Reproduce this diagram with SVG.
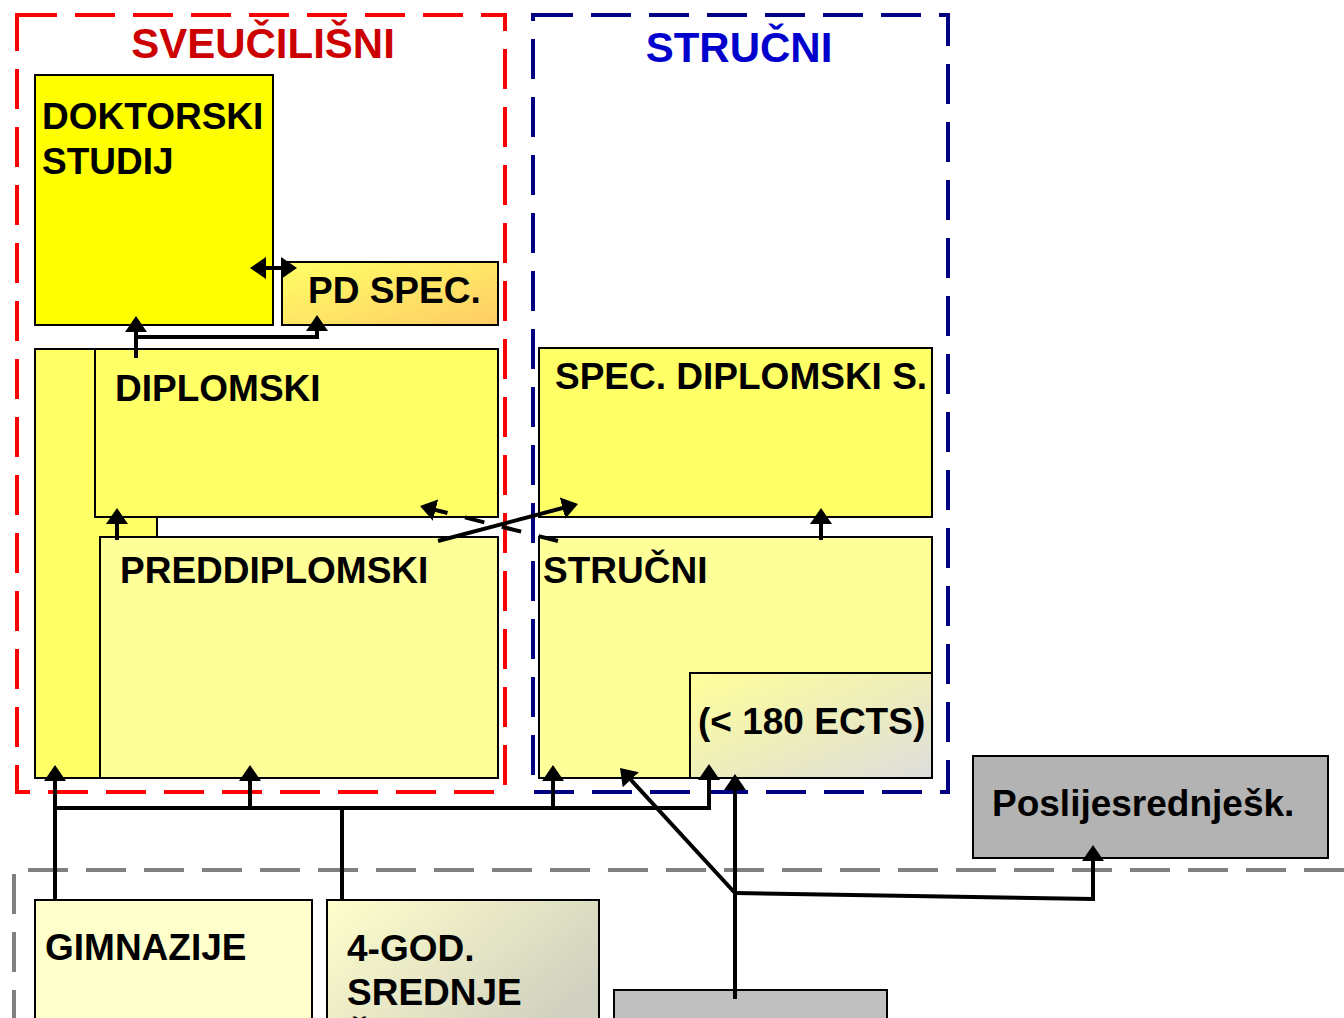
<svg xmlns="http://www.w3.org/2000/svg" width="1344" height="1018" viewBox="0 0 1344 1018">
<defs>
<marker id="ah" viewBox="0 0 16 22" markerWidth="16" markerHeight="22" refX="8" refY="11" orient="auto-start-reverse" markerUnits="userSpaceOnUse"><path d="M0,0 L16,11 L0,22 z" fill="#000"/></marker>
<linearGradient id="gPD" x1="0" y1="0" x2="1" y2="1"><stop offset="0" stop-color="#FFFF66"/><stop offset="1" stop-color="#FFCC66"/></linearGradient>
<linearGradient id="gECTS" x1="0" y1="0" x2="1" y2="1"><stop offset="0" stop-color="#FFFF99"/><stop offset="1" stop-color="#DDDDDD"/></linearGradient>
<linearGradient id="gSS" x1="0" y1="0" x2="1" y2="0.6"><stop offset="0" stop-color="#FFFFCC"/><stop offset="1" stop-color="#D0D0C0"/></linearGradient>
</defs>
<style>
.box{stroke:#000;stroke-width:2}
.t{font-family:"Liberation Sans",Arial,sans-serif;font-weight:bold;font-size:37px;fill:#000}
.title{font-family:"Liberation Sans",Arial,sans-serif;font-weight:bold;font-size:42px}
.cont{fill:none;stroke-width:4;stroke-dasharray:40 18}
.c{fill:none;stroke:#000;stroke-width:4}
</style>
<rect width="1344" height="1018" fill="#fff"/>
<g id="containers">
<rect id="sveucilisni" class="cont" x="17" y="15" width="488" height="777" stroke="#FF0000"/>
<rect id="strucni-group" class="cont" x="533" y="15" width="415" height="777" stroke="#000080"/>
<path id="srednje-group" class="cont" d="M1344,870 L14,870 L14,1030" stroke="#808080" stroke-width="5"/>
<text class="title" x="263" y="58" text-anchor="middle" fill="#CC0000">SVEUČILIŠNI</text>
<text class="title" x="739" y="62" text-anchor="middle" fill="#0000CC">STRUČNI</text>
</g>
<g id="doktorski"><rect class="box" x="35" y="75" width="238" height="250" fill="#FFFF00"/><text class="t" x="42" y="129">DOKTORSKI</text><text class="t" x="42" y="174">STUDIJ</text></g>
<g id="pdspec"><rect class="box" x="282" y="262" width="216" height="63" fill="url(#gPD)"/><text class="t" x="308" y="303">PD SPEC.</text></g>
<g id="integrirani"><rect class="box" x="35" y="349" width="122" height="429" fill="#FFFF66"/></g>
<g id="diplomski"><rect class="box" x="95" y="349" width="403" height="168" fill="#FFFF66"/><text class="t" x="115" y="401">DIPLOMSKI</text></g>
<g id="preddiplomski"><rect class="box" x="100" y="537" width="398" height="241" fill="#FFFF99"/><text class="t" x="120" y="583">PREDDIPLOMSKI</text></g>
<g id="specdiplomski"><rect class="box" x="539" y="348" width="393" height="169" fill="#FFFF66"/><text class="t" x="555" y="389">SPEC. DIPLOMSKI S.</text></g>
<g id="strucni"><rect class="box" x="539" y="537" width="393" height="241" fill="#FFFF99"/><text class="t" x="543" y="583">STRUČNI</text></g>
<g id="ects"><rect class="box" x="690" y="673" width="242" height="105" fill="url(#gECTS)"/><text class="t" x="698" y="734">(&lt; 180 ECTS)</text></g>
<g id="poslijesrednje"><rect class="box" x="973" y="756" width="355" height="102" fill="#B3B3B3"/><text class="t" x="992" y="816">Poslijesrednješk.</text></g>
<g id="gimnazije"><rect class="box" x="35" y="900" width="277" height="140" fill="#FFFFCC"/><text class="t" x="45" y="960">GIMNAZIJE</text></g>
<g id="srednje"><rect class="box" x="327" y="900" width="272" height="140" fill="url(#gSS)"/><text class="t" x="347" y="961">4-GOD.</text><text class="t" x="347" y="1005">SREDNJE</text><text class="t" x="347" y="1050">ŠKOLE</text></g>
<g id="strukovne"><rect class="box" x="614" y="990" width="273" height="50" fill="#C0C0C0"/></g>
<g id="connectors">
<path class="c" d="M258,268 L289,268" marker-start="url(#ah)" marker-end="url(#ah)"/>
<path class="c" d="M136,358 L136,324" marker-end="url(#ah)"/>
<path class="c" d="M136,337 L317,337 L317,323" marker-end="url(#ah)"/>
<path class="c" d="M117,540 L117,516" marker-end="url(#ah)"/>
<path class="c" d="M438,541 L570.3,506" marker-end="url(#ah)"/>
<path class="c" d="M558,541 L427.8,508" stroke-dasharray="20 18" marker-end="url(#ah)"/>
<path class="c" d="M821,540 L821,516" marker-end="url(#ah)"/>
<path class="c" d="M55,900 L55,773" marker-end="url(#ah)"/>
<path class="c" d="M55,808 L711,808"/>
<path class="c" d="M250,808 L250,773" marker-end="url(#ah)"/>
<path class="c" d="M342,808 L342,900"/>
<path class="c" d="M553,808 L553,773" marker-end="url(#ah)"/>
<path class="c" d="M709,808 L709,772" marker-end="url(#ah)"/>
<path class="c" d="M735,999 L735,782" marker-end="url(#ah)"/>
<path class="c" d="M735,893 L625.4,773.9" marker-end="url(#ah)"/>
<path class="c" d="M735,893 L1093,899 L1093,853" marker-end="url(#ah)"/>
</g>
</svg>
